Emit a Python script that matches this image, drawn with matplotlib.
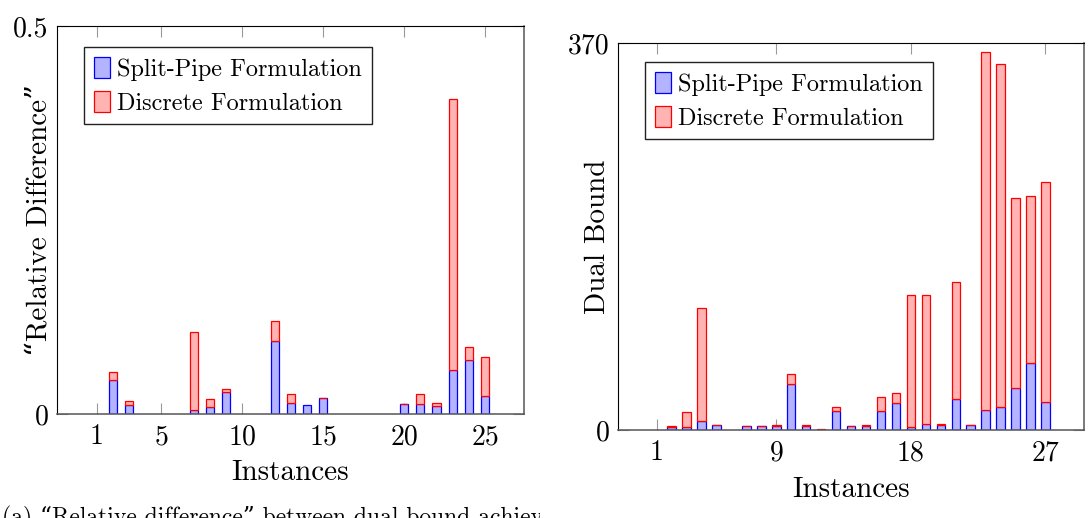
import numpy as np
import matplotlib
matplotlib.use("Agg")
import matplotlib.pyplot as plt
from matplotlib.transforms import Bbox

plt.rcParams['font.family'] = ['cmr10', 'DejaVu Serif']
plt.rcParams['axes.unicode_minus'] = False
plt.rcParams['mathtext.fontset'] = 'cm'

# ---------------- data ----------------
instances = list(range(1, 28))

# (a) relative difference, stacked: split-pipe (bottom) + discrete (on top)
rel_split = [0, 0.0437, 0.0122, 0, 0, 0, 0.0048, 0.0087, 0.0278, 0, 0, 0.094, 0.0139,
             0.0117, 0.0204, 0, 0, 0, 0, 0.0126, 0.0126, 0.010, 0.0564, 0.0693, 0.0226, 0, 0]
rel_discrete = [0, 0.010, 0.0047, 0, 0, 0, 0.101, 0.010, 0.0047, 0, 0, 0.026, 0.0113,
                0, 0.0005, 0, 0, 0, 0, 0.0009, 0.0134, 0.0043, 0.350, 0.0164, 0.0506, 0, 0]

# (b) dual bound, stacked
dual_split = [0, 3.2, 2.9, 8.9, 4.8, 0, 3.5, 3.8, 4.1, 44.3, 4.1, 0.3, 18.5, 3.8, 4.1,
              18.5, 26.1, 3.2, 5.4, 5.1, 29.3, 4.8, 19.4, 22.3, 40.5, 64.4, 26.8]
dual_discrete = [0, 0.9, 14.3, 108.1, 0.3, 0, 0.6, 0.3, 1.0, 9.6, 1.0, 0.3, 3.8, 0.3, 1.0,
                 13.4, 9.6, 126.2, 124.0, 1.0, 112.4, 0.3, 342.4, 327.3, 181.0, 159.3, 210.0]

labels = ["Split-Pipe Formulation", "Discrete Formulation"]
left_xticks = [1, 5, 10, 15, 20, 25]
right_xticks = [1, 9, 18, 27]

BLUE_FILL = '#b3b3ff'
RED_FILL = '#ffb3b3'

fig = plt.figure(figsize=(10.88, 5.18), dpi=100)
W, H = 1088, 518


def add_axes_px(x0, y0, x1, y1):
    return fig.add_axes([x0 / W, 1 - y1 / H, (x1 - x0) / W, (y1 - y0) / H])


def draw(ax, split, disc, width):
    x = np.array(instances)
    s = np.array(split, dtype=float)
    d = np.array(disc, dtype=float)
    ms = s > 0
    md = d > 0
    hb = ax.bar(x[ms], s[ms], width=width, color=BLUE_FILL, edgecolor='blue',
                linewidth=0.9, label=labels[0], zorder=2)
    hr = ax.bar(x[md], d[md], bottom=s[md], width=width, color=RED_FILL, edgecolor='red',
                linewidth=0.9, label=labels[1], zorder=2)
    return hb, hr


def style(ax):
    for side in ['left', 'top']:
        ax.spines[side].set_color('black')
        ax.spines[side].set_linewidth(0.8)
    for side in ['right', 'bottom']:
        ax.spines[side].set_color('#555555')
        ax.spines[side].set_linewidth(1.1)
    ax.tick_params(axis='x', direction='in', top=True, bottom=True, length=8,
                   color='#999999', width=0.8, labelsize=20, pad=7)
    ax.tick_params(axis='y', direction='in', left=True, right=True, length=8,
                   color='#999999', width=0.8, labelsize=20, pad=6)


def legend(ax, anchor):
    ax.legend(loc='upper left', bbox_to_anchor=anchor, borderaxespad=0,
              fontsize=17.5, frameon=True, fancybox=False, framealpha=1,
              edgecolor='#222222', handlelength=0.66, handleheight=0.95,
              handletextpad=0.3, borderpad=0.4, labelspacing=0.42)
    ax.get_legend().get_frame().set_linewidth(1.0)


# ----- left panel -----
ax1 = add_axes_px(57, 26, 524, 414)
draw(ax1, rel_split, rel_discrete, 0.5)
ax1.set_xlim(-1.45, 27.41)
ax1.set_ylim(0, 0.5)
ax1.set_xticks(left_xticks)
ax1.set_xticklabels([str(t) for t in left_xticks])
ax1.set_yticks([0, 0.5])
ax1.set_yticklabels(['0', '0.5'])
style(ax1)
ax1.set_xlabel('Instances', fontsize=21)
ax1.xaxis.set_label_coords(0.5, -(473 - 414) / 388, transform=ax1.transAxes)
ax1.xaxis.label.set_va('center')
ax1.set_ylabel('“Relative Difference”', fontsize=21)
ax1.yaxis.set_label_coords((39 - 57) / 467, 0.5, transform=ax1.transAxes)
ax1.yaxis.label.set_va('center')
legend(ax1, (0.058, 0.946))

# ----- right panel -----
ax2 = add_axes_px(618, 43, 1084, 430)
draw(ax2, dual_split, dual_discrete, 0.56)
ax2.set_xlim(-1.59, 29.58)
ax2.set_ylim(0, 370)
ax2.set_xticks(right_xticks)
ax2.set_xticklabels([str(t) for t in right_xticks])
ax2.set_yticks([0, 370])
ax2.set_yticklabels(['0', '370'])
style(ax2)
ax2.set_xlabel('Instances', fontsize=21)
ax2.xaxis.set_label_coords(0.5, -(490 - 430) / 387, transform=ax2.transAxes)
ax2.xaxis.label.set_va('center')
ax2.set_ylabel('Dual Bound', fontsize=21)
ax2.yaxis.set_label_coords((598 - 618) / 466, 0.5, transform=ax2.transAxes)
ax2.yaxis.label.set_va('center')
legend(ax2, (0.058, 0.951))

# caption of subfigure (a), cut by the image edge as in the source
cap = fig.text(2 / W, 1 - 506 / H, '(a) “Relative difference” between dual bound achieved',
               fontsize=17, va='top', ha='left')
cap.set_clip_box(Bbox.from_extents(0, 0, 540, H))
cap.set_clip_on(True)

fig.savefig('out.png', dpi=100)
